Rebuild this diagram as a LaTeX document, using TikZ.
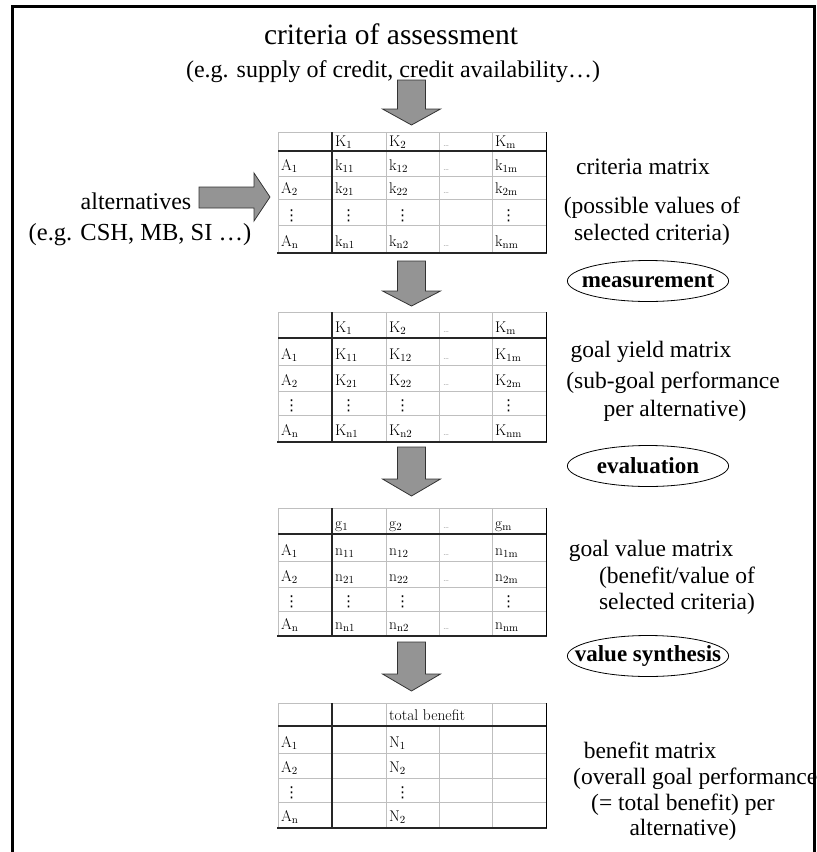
\documentclass[tikz,border=0pt]{standalone}
\usepackage{fontspec}
\setmainfont{Liberation Serif}
\newfontfamily\cellfont{Latin Modern Roman}
\newfontfamily\symfont{DejaVu Sans}
\usetikzlibrary{shapes.geometric}
\newcommand\cs[2]{#1\textsubscript{#2}}
\newcommand\hdots{{\fontsize{9}{10}\selectfont\color{black!55}\ldots}}
\newcommand\vdts{\hspace*{6pt}{\symfont\fontsize{15}{16}\selectfont ⋮}}
\tikzset{
  gridln/.style={draw=black!25, line width=0.9pt},
  darkln/.style={draw=black!85, line width=1.8pt},
  rimln/.style={draw=black, line width=1pt},
  cell/.style={anchor=base west, inner sep=0pt, font=\cellfont\fontsize{15.5}{17}\selectfont},
  big/.style={inner sep=0pt, anchor=base, font=\fontsize{23.5}{27}\selectfont},
  head/.style={inner sep=0pt, anchor=base, font=\fontsize{24}{28}\selectfont},
  oval/.style={ellipse, draw, line width=0.8pt, inner xsep=0pt, inner ysep=2pt, minimum height=41pt, font=\bfseries\fontsize{23}{26}\selectfont},
  blk/.style={fill=black!42, draw=black!80, line width=0.8pt, line join=miter},
  frameln/.style={draw=black, line width=3pt},
}
\newcommand\ovaltext[1]{\makebox[114pt]{#1}}
% table grid: #1 top, #2 header line, #3 #4 #5 row lines, #6 bottom, #7 start of 4th column line
\newcommand\gridtab[7]{%
  \draw[gridln] (278,#1) -- (546,#1);
  \foreach \yy in {#3,#4,#5} \draw[gridln] (278,\yy) -- (546,\yy);
  \draw[gridln] (278,#1) -- (278,#6);
  \draw[gridln] (386,#1) -- (386,#6);
  \draw[gridln] (439,#7) -- (439,#6);
  \draw[gridln] (492,#1) -- (492,#6);
  \draw[darkln] (278,#2) -- (546,#2);
  \draw[darkln] (332,#1) -- (332,#6);
  \draw[darkln] (277,#6) -- (547,#6);
  \draw[rimln] (546,#1) -- (546,#6);
}
% row of cells: #1 name prefix, #2 baseline, #3..#7 texts
\newcommand\rowtext[7]{%
  \node[cell] (#1a) at (281,#2) {#3};
  \node[cell] (#1b) at (335,#2) {#4};
  \node[cell] (#1c) at (389,#2) {#5};
  \node[cell] (#1d) at (443,#2) {#6};
  \node[cell] (#1e) at (495,#2) {#7};
}
% block arrow down: #1 centre x, #2 top, #3 head base, #4 tip
\newcommand\blkdown[4]{%
  \draw[blk] (#1-14,#2) -- (#1+14,#2) -- (#1+14,#3) -- (#1+29,#3) -- (#1,#4)
    -- (#1-29,#3) -- (#1-14,#3) -- cycle;
}
\begin{document}
\begin{tikzpicture}[x=1pt,y=-1pt]
\useasboundingbox (0,0) rectangle (817,852);

% heading
\node[head, font=\fontsize{29.5}{32}\selectfont] (crit) at (391,44) {criteria of assessment};
\node[head] (critex) at (393,77) {(e.g. supply of credit, credit availability…)};

% alternatives
\node[head] (alt) at (136,209) {alternatives};
\node[head, font=\fontsize{24.5}{27}\selectfont] (altex) at (140,240) {(e.g. CSH, MB, SI …)};

% arrows
\blkdown{411.5}{80}{109}{125}
\blkdown{411.5}{261}{291}{306}
\blkdown{411.5}{447}{479}{496}
\blkdown{411.5}{642}{674}{691}
\draw[blk] (199,187) -- (254,187) -- (254,173) -- (270,197) -- (254,221) -- (254,208) -- (199,208) -- cycle;

% table 1 : criteria matrix
\gridtab{132}{151}{176}{199}{225}{253}{132}
\rowtext{t1h}{146}{}{\cs{K}{1}}{\cs{K}{2}}{\hdots}{\cs{K}{m}}
\rowtext{t1a}{170}{\cs{A}{1}}{\cs{k}{11}}{\cs{k}{12}}{\hdots}{\cs{k}{1m}}
\rowtext{t1b}{193}{\cs{A}{2}}{\cs{k}{21}}{\cs{k}{22}}{\hdots}{\cs{k}{2m}}
\rowtext{t1c}{220}{\hspace*{-3pt}\vdts}{\vdts}{\vdts}{}{\vdts}
\rowtext{t1d}{246}{\cs{A}{n}}{\cs{k}{n1}}{\cs{k}{n2}}{\hdots}{\cs{k}{nm}}

% table 2 : goal yield matrix
\gridtab{312}{338}{365}{391}{415}{442}{312}
\rowtext{t2h}{332}{}{\cs{K}{1}}{\cs{K}{2}}{\hdots}{\cs{K}{m}}
\rowtext{t2a}{359}{\cs{A}{1}}{\cs{K}{11}}{\cs{K}{12}}{\hdots}{\cs{K}{1m}}
\rowtext{t2b}{385}{\cs{A}{2}}{\cs{K}{21}}{\cs{K}{22}}{\hdots}{\cs{K}{2m}}
\rowtext{t2c}{410}{\hspace*{-3pt}\vdts}{\vdts}{\vdts}{}{\vdts}
\rowtext{t2d}{435}{\cs{A}{n}}{\cs{K}{n1}}{\cs{K}{n2}}{\hdots}{\cs{K}{nm}}

% table 3 : goal value matrix
\gridtab{508}{534}{561}{587}{611}{636}{508}
\rowtext{t3h}{528}{}{\cs{g}{1}}{\cs{g}{2}}{\hdots}{\cs{g}{m}}
\rowtext{t3a}{555}{\cs{A}{1}}{\cs{n}{11}}{\cs{n}{12}}{\hdots}{\cs{n}{1m}}
\rowtext{t3b}{581}{\cs{A}{2}}{\cs{n}{21}}{\cs{n}{22}}{\hdots}{\cs{n}{2m}}
\rowtext{t3c}{606}{\hspace*{-3pt}\vdts}{\vdts}{\vdts}{}{\vdts}
\rowtext{t3d}{629}{\cs{A}{n}}{\cs{n}{n1}}{\cs{n}{n2}}{\hdots}{\cs{n}{nm}}

% table 4 : benefit matrix
\gridtab{703}{726}{753}{778}{802}{828}{726}
\rowtext{t4h}{720}{}{}{total benefit}{}{}
\rowtext{t4a}{747}{\cs{A}{1}}{}{\cs{N}{1}}{}{}
\rowtext{t4b}{772}{\cs{A}{2}}{}{\cs{N}{2}}{}{}
\rowtext{t4c}{797}{\hspace*{-3pt}\vdts}{}{\vdts}{}{}
\rowtext{t4d}{821}{\cs{A}{n}}{}{\cs{N}{2}}{}{}

% right-hand descriptions
\node[big] (cm1) at (643,174) {criteria matrix};
\node[big] (cm2) at (652,213) {(possible values of};
\node[big] (cm3) at (652,240) {selected criteria)};

\node[big] (gy1) at (651,357) {goal yield matrix};
\node[big] (gy2) at (673,388) {(sub-goal performance};
\node[big] (gy3) at (675,416) {per alternative)};

\node[big] (gv1) at (651,556) {goal value matrix};
\node[big] (gv2) at (677,583) {(benefit/value of};
\node[big] (gv3) at (677,609) {selected criteria)};

\node[big] (bm1) at (650,758) {benefit matrix};
\node[big, anchor=base west] (bm2) at (573,784) {(overall goal performance};
\node[big] (bm3) at (683,810) {(= total benefit) per};
\node[big] (bm4) at (683,835) {alternative)};

% process steps
\node[oval] (meas) at (648,281) {\ovaltext{measurement}};
\node[oval] (eval) at (648,466) {\ovaltext{evaluation}};
\node[oval] (syn) at (648,656) {\ovaltext{value synthesis}};

% frame
\draw[frameln] (12,853) -- (12,6.5) -- (814.5,6.5) -- (814.5,853);
\end{tikzpicture}
\end{document}
